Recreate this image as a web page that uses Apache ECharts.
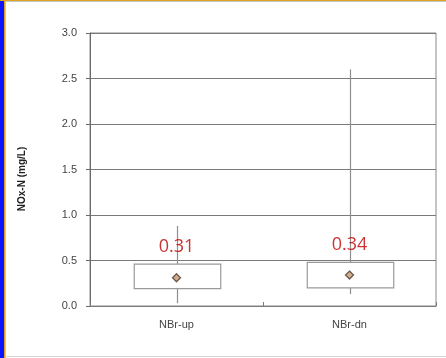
<!DOCTYPE html>
<html>
<head>
<meta charset="utf-8">
<script src="https://cdn.jsdelivr.net/npm/echarts@6/dist/echarts.min.js"></script>
<style>
html,body{margin:0;padding:0;background:#fff;}
#c{width:446px;height:358px;}
</style>
</head>
<body>
<div id="c"></div>
<script>
const categories = ['NBr-up', 'NBr-dn'];
const whiskerLow = [0.03, 0.13];
const boxLow = [0.19, 0.20];
const boxHigh = [0.46, 0.48];
const whiskerHigh = [0.88, 2.60];
const meanValues = [0.31, 0.34];
const meanLabels = ['0.31', '0.34'];
const yTicks = { min: 0, max: 3, interval: 0.5 };
const yName = 'NOx-N (mg/L)';

const boxData = categories.map((c, i) => [i, whiskerLow[i], boxLow[i], boxHigh[i], whiskerHigh[i]]);

const chart = echarts.init(document.getElementById('c'), null, { renderer: 'canvas' });
chart.setOption({
  animation: false,
  backgroundColor: '#fff',
  grid: { left: 90, right: 10, top: 33, bottom: 52, show: true, borderColor: '#8a8a8a', borderWidth: 1, backgroundColor: 'transparent' },
  xAxis: {
    type: 'category',
    data: categories,
    boundaryGap: true,
    axisLine: { show: true, lineStyle: { color: '#7a7a7a', width: 1 } },
    axisTick: { show: true, inside: true, length: 4, lineStyle: { color: '#7a7a7a' } },
    axisLabel: { color: '#444', fontFamily: 'Liberation Sans, Arial, sans-serif', fontSize: 11, margin: 13 },
    splitLine: { show: false }
  },
  yAxis: {
    type: 'value',
    min: yTicks.min, max: yTicks.max, interval: yTicks.interval,
    axisLine: { show: true, lineStyle: { color: '#6a6a6a', width: 1 } },
    axisTick: { show: true, length: 4, lineStyle: { color: '#6a6a6a' } },
    axisLabel: { color: '#444', fontFamily: 'Liberation Sans, Arial, sans-serif', fontSize: 11, margin: 13,
      formatter: v => v.toFixed(1) },
    splitLine: { show: true, lineStyle: { color: '#7a7a7a', width: 1 } }
  },
  graphic: [
    { type: 'rect', left: 0, top: 0, shape: { width: 4, height: 358 }, style: { fill: '#0a14ff' }, z: 100 },
    { type: 'rect', left: 4, top: 0, shape: { width: 1, height: 358 }, style: { fill: '#e0a020' }, z: 100 },
    { type: 'rect', left: 0, top: 0, shape: { width: 446, height: 1 }, style: { fill: '#e0a020' }, z: 100 },
    { type: 'rect', left: 5, top: 1, shape: { width: 441, height: 1 }, style: { fill: '#c8c8c8' }, z: 100 },
    { type: 'rect', left: 5, top: 1, shape: { width: 1, height: 357 }, style: { fill: '#c8c8c8' }, z: 100 },
    { type: 'rect', left: 5, top: 356, shape: { width: 441, height: 1 }, style: { fill: '#d4d4d4' }, z: 100 },
    {
      type: 'text', x: 22, y: 179, rotation: Math.PI / 2,
      style: { text: yName, fill: '#222', font: 'bold 10px "Liberation Sans", Arial, sans-serif', align: 'center', verticalAlign: 'middle' }
    }
  ],
  series: [
    {
      type: 'custom',
      data: boxData,
      encode: { x: 0, y: [1, 2, 3, 4] },
      renderItem: function (params, api) {
        const x = api.value(0);
        const pMin = api.coord([x, api.value(1)]);
        const pQ1 = api.coord([x, api.value(2)]);
        const pQ3 = api.coord([x, api.value(3)]);
        const pMax = api.coord([x, api.value(4)]);
        const w = api.size([1, 0])[0] * 0.5;
        const cx = Math.round(pQ1[0]) + 0.5;
        const ls = { stroke: '#8f8f8f', lineWidth: 1.2, fill: null };
        return {
          type: 'group',
          children: [
            { type: 'line', shape: { x1: cx, y1: pQ3[1], x2: cx, y2: pMax[1] }, style: ls },
            { type: 'line', shape: { x1: cx, y1: pMin[1], x2: cx, y2: pQ1[1] }, style: ls },
            { type: 'rect', shape: { x: cx - w / 2, y: pQ3[1], width: w, height: pQ1[1] - pQ3[1] },
              style: { fill: '#fff', stroke: '#9a9a9a', lineWidth: 1.2 } }
          ]
        };
      },
      z: 3
    },
    {
      type: 'scatter',
      data: meanValues,
      symbol: 'diamond',
      symbolSize: 8,
      itemStyle: { color: '#c89a72', borderColor: '#4a3a30', borderWidth: 1.3 },
      label: {
        show: true, position: 'top', distance: 17,
        formatter: p => meanLabels[p.dataIndex],
        color: '#c00000', fontSize: 18, fontFamily: 'Open Sans, Noto Sans, sans-serif'
      },
      z: 5
    }
  ]
});
</script>
</body>
</html>
